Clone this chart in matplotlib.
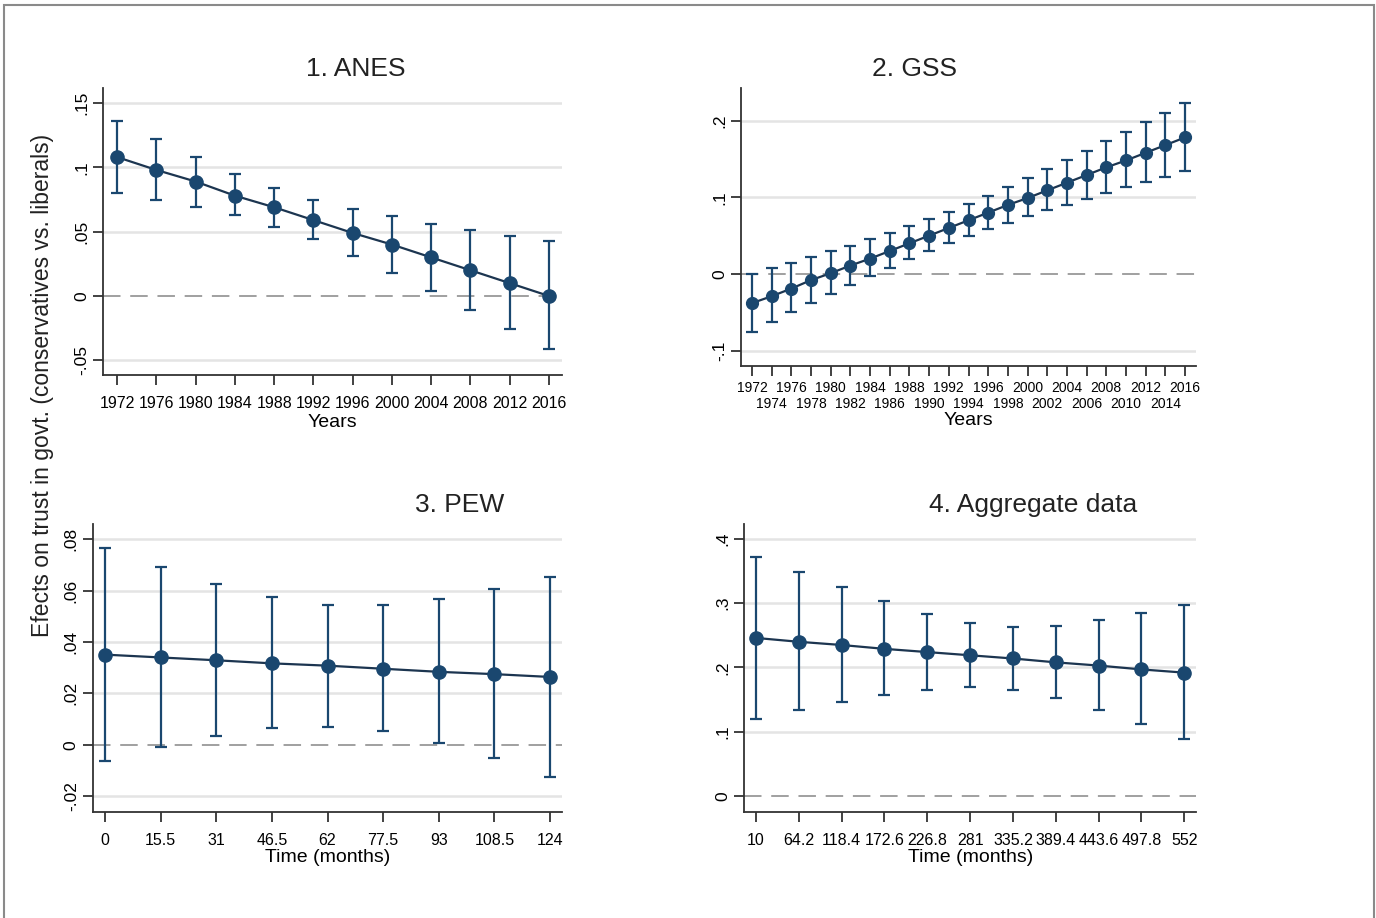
import numpy as np
import matplotlib
matplotlib.use("Agg")
import matplotlib.pyplot as plt
from matplotlib.patches import Rectangle

# ---- data ----
anes_years = [1972, 1976, 1980, 1984, 1988, 1992, 1996, 2000, 2004, 2008, 2012, 2016]
anes_est = [0.108, 0.098, 0.089, 0.078, 0.069, 0.059, 0.049, 0.040, 0.030, 0.020, 0.010, 0.000]
anes_hi = [0.136, 0.122, 0.108, 0.095, 0.084, 0.075, 0.068, 0.062, 0.056, 0.051, 0.047, 0.043]
anes_lo = [0.080, 0.075, 0.069, 0.063, 0.054, 0.044, 0.031, 0.018, 0.004, -0.011, -0.026, -0.041]

gss_years = [1972, 1974, 1976, 1978, 1980, 1982, 1984, 1986, 1988, 1990, 1992, 1994,
             1996, 1998, 2000, 2002, 2004, 2006, 2008, 2010, 2012, 2014, 2016]
gss_est = [-0.038, -0.029, -0.019, -0.008, 0.001, 0.011, 0.020, 0.030, 0.040, 0.050, 0.060, 0.070,
           0.080, 0.090, 0.099, 0.109, 0.119, 0.129, 0.139, 0.148, 0.158, 0.168, 0.178]
gss_hi = [0.000, 0.008, 0.014, 0.022, 0.030, 0.037, 0.045, 0.053, 0.063, 0.072, 0.081, 0.091,
          0.102, 0.113, 0.125, 0.137, 0.148, 0.160, 0.173, 0.185, 0.198, 0.210, 0.223]
gss_lo = [-0.076, -0.063, -0.050, -0.038, -0.026, -0.014, -0.002, 0.008, 0.020, 0.030, 0.040, 0.050,
          0.059, 0.067, 0.075, 0.083, 0.090, 0.098, 0.105, 0.113, 0.120, 0.127, 0.134]

pew_months = [0, 15.5, 31, 46.5, 62, 77.5, 93, 108.5, 124]
pew_est = [0.0351, 0.0340, 0.0329, 0.0317, 0.0308, 0.0296, 0.0284, 0.0275, 0.0264]
pew_hi = [0.0765, 0.0691, 0.0627, 0.0574, 0.0545, 0.0544, 0.0566, 0.0605, 0.0655]
pew_lo = [-0.0062, -0.0010, 0.0034, 0.0064, 0.0070, 0.0053, 0.0005, -0.0053, -0.0125]

agg_months = [10, 64.2, 118.4, 172.6, 226.8, 281, 335.2, 389.4, 443.6, 497.8, 552]
agg_est = [0.246, 0.240, 0.235, 0.229, 0.224, 0.219, 0.214, 0.208, 0.203, 0.197, 0.192]
agg_hi = [0.3725, 0.3486, 0.3248, 0.3040, 0.2838, 0.2698, 0.2636, 0.2651, 0.2734, 0.2843, 0.2968]
agg_lo = [0.1198, 0.1333, 0.1468, 0.1567, 0.1655, 0.1691, 0.1645, 0.1520, 0.1333, 0.1126, 0.0892]

anes_yticks = [-0.05, 0, 0.05, 0.1, 0.15]
anes_ylabels = ["-.05", "0", ".05", ".1", ".15"]
gss_yticks = [-0.1, 0, 0.1, 0.2]
gss_ylabels = ["-.1", "0", ".1", ".2"]
pew_yticks = [-0.02, 0, 0.02, 0.04, 0.06, 0.08]
pew_ylabels = ["-.02", "0", ".02", ".04", ".06", ".08"]
agg_yticks = [0, 0.1, 0.2, 0.3, 0.4]
agg_ylabels = ["0", ".1", ".2", ".3", ".4"]
pew_xlabels = ["0", "15.5", "31", "46.5", "62", "77.5", "93", "108.5", "124"]
agg_xlabels = ["10", "64.2", "118.4", "172.6", "226.8", "281", "335.2", "389.4", "443.6", "497.8", "552"]

plt.rcParams["font.family"] = ["Liberation Sans", "DejaVu Sans"]
tick_fs = 11.5

navy = "#1a476f"
W, H = 1376, 918
fig = plt.figure(figsize=(W / 100, H / 100), dpi=100)

# outer frame
fig.patches.append(Rectangle((4 / W, -0.01), 1370 / W, 1.01 - 5 / H, transform=fig.transFigure,
                             fill=False, edgecolor="#8a8a8a", lw=1.5))


def px_axes(left, top, right, bottom):
    return fig.add_axes([left / W, 1 - bottom / H, (right - left) / W, (bottom - top) / H])


def panel(ax, x, est, lo, hi, yticks, ylabels, ylim, xlim, msize=9.5):
    for yv in yticks:
        if yv != 0:
            ax.axhline(yv, color="#e4e4e4", lw=1.8, zorder=0)
    ax.axhline(0, color="#a0a0a0", lw=1.4, dashes=(9, 5), zorder=1)
    est = np.array(est)
    yerr = [est - np.array(lo), np.array(hi) - est]
    ax.errorbar(x, est, yerr=yerr, fmt="none", ecolor=navy, elinewidth=1.6, capsize=4, capthick=1.6, zorder=2)
    ax.plot(x, est, color="#1c3550", lw=1.6, zorder=3)
    ax.plot(x, est, "o", color=navy, markersize=msize, zorder=4)
    ax.set_ylim(ylim)
    ax.set_xlim(xlim)
    ax.set_yticks(yticks)
    ax.set_yticklabels(ylabels, rotation=90, va="center", fontsize=12.5)
    for s in ["top", "right"]:
        ax.spines[s].set_visible(False)
    for s in ["left", "bottom"]:
        ax.spines[s].set_color("#333333")
        ax.spines[s].set_linewidth(1.3)
    ax.tick_params(which="both", length=7, width=1.3, color="#333333")
    ax.tick_params(axis="y", pad=3)
    ax.tick_params(axis="x", pad=8)


ax1 = px_axes(103, 88, 562, 375)
panel(ax1, anes_years, anes_est, anes_lo, anes_hi, anes_yticks, anes_ylabels, (-0.0614, 0.1617), (1970.57, 2017.32))
ax1.set_xticks(anes_years)
ax1.set_xticklabels([str(y) for y in anes_years], fontsize=tick_fs)
ax1.set_xlabel("Years", fontsize=14, labelpad=2)

ax2 = px_axes(741, 88, 1196, 366)
panel(ax2, gss_years, gss_est, gss_lo, gss_hi, gss_yticks, gss_ylabels, (-0.12, 0.2425), (1970.88, 2017.12), msize=8.5)
# alternate years on two rows: even index on major ticks, odd index on minor ticks
ax2.set_xticks(gss_years[0::2])
ax2.set_xticklabels([str(y) for y in gss_years[0::2]], fontsize=10)
ax2.set_xticks(gss_years[1::2], minor=True)
ax2.set_xticklabels([str(y) for y in gss_years[1::2]], minor=True, fontsize=10)
ax2.tick_params(axis="x", which="major", pad=4)
ax2.tick_params(axis="x", which="minor", pad=15)
ax2.set_xlabel("Years", fontsize=14, labelpad=1)

ax3 = px_axes(92.7, 524, 561.7, 811.7)
panel(ax3, pew_months, pew_est, pew_lo, pew_hi, pew_yticks, pew_ylabels, (-0.0261, 0.086), (-3.43, 127.26))
ax3.set_xticks(pew_months)
ax3.set_xticklabels(pew_xlabels, fontsize=tick_fs)
ax3.set_xlabel("Time (months)", fontsize=14, labelpad=1)

ax4 = px_axes(744.3, 524, 1196, 811.7)
panel(ax4, agg_months, agg_est, agg_lo, agg_hi, agg_yticks, agg_ylabels, (-0.0244, 0.4233), (-4.8, 566.8))
ax4.set_xticks(agg_months)
ax4.set_xticklabels(agg_xlabels, fontsize=tick_fs)
ax4.set_xlabel("Time (months)", fontsize=14, labelpad=1)

# panel titles
title_kw = dict(fontsize=19, color="#222222", ha="center", va="center")
fig.text(356 / W, 1 - 69 / H, "1. ANES", **title_kw)
fig.text(914 / W, 1 - 69 / H, "2. GSS", **title_kw)
fig.text(460 / W, 1 - 505 / H, "3. PEW", **title_kw)
fig.text(1033 / W, 1 - 505 / H, "4. Aggregate data", **title_kw)

fig.text(43 / W, 1 - 385 / H, "Efects on trust in govt. (conservatives vs. liberals)",
         rotation=90, ha="center", va="center", fontsize=16.5, color="#222222")

fig.savefig("out.png", dpi=100)
